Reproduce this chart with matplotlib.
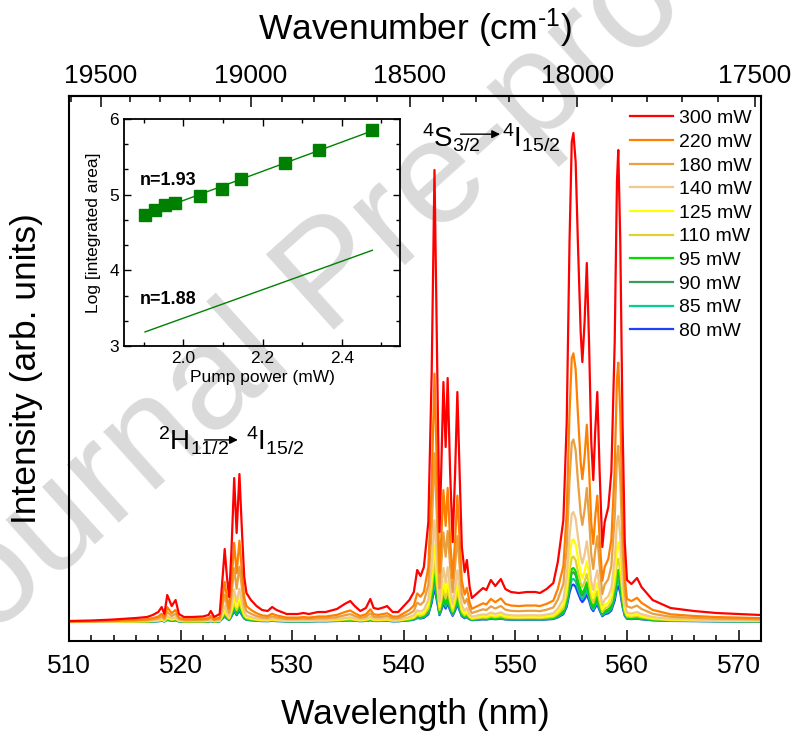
import numpy as np
import matplotlib
matplotlib.use("Agg")
import matplotlib.pyplot as plt
from matplotlib.ticker import MultipleLocator

plt.rcParams['font.family'] = ['Liberation Sans', 'DejaVu Sans']
plt.rcParams['mathtext.fontset'] = 'custom'
plt.rcParams['mathtext.rm'] = 'Liberation Sans'
plt.rcParams['mathtext.it'] = 'Liberation Sans:italic'
plt.rcParams['mathtext.bf'] = 'Liberation Sans:bold'

# Up-conversion emission spectrum at the highest pump power (300 mW)
wavelength_nm = [
    510.0, 512.0, 514.0, 516.0, 517.0, 517.5, 518.0, 518.3, 518.55, 518.8,
    519.2, 519.55, 519.85, 520.3, 521.0, 522.0, 522.5, 522.7, 523.0, 523.5,
    523.8, 523.95, 524.15, 524.35, 524.55, 524.8, 525.02, 525.27, 525.5, 525.7,
    525.9, 526.3, 526.8, 527.3, 527.8, 528.2, 528.6, 529.5, 530.5, 531.0,
    531.5, 532.3, 533.0, 534.0, 534.7, 535.2, 535.6, 536.1, 536.6, 537.0,
    537.3, 537.7, 538.3, 538.5, 539.0, 539.5, 540.0, 540.5, 540.9, 541.2,
    541.5, 541.8, 542.2, 542.5, 542.75, 543.0, 543.2, 543.35, 543.55, 543.75,
    543.93, 544.15, 544.38, 544.6, 544.8, 545.0, 545.2, 545.45, 545.65, 545.9,
    546.1, 546.5, 547.1, 547.4, 547.8, 548.2, 548.7, 549.1, 549.6, 550.3,
    551.0, 551.8, 552.2, 552.8, 553.4, 553.8, 554.3, 554.6, 554.85, 555.05,
    555.2, 555.4, 555.6, 555.85, 556.0, 556.2, 556.4, 556.6, 556.8, 556.98,
    557.15, 557.34, 557.55, 557.79, 558.0, 558.33, 558.6, 558.9, 559.1, 559.22,
    559.4, 559.6, 559.8, 560.0, 560.4, 560.9, 561.3, 562.3, 563.9, 566.0,
    568.0, 570.0, 572.0,
]
intensity_300mW = [
    1, 1.5, 2.5, 4, 5, 7, 10, 15, 8, 27,
    16, 22, 8, 5, 5, 5.5, 7, 11, 5, 8,
    50, 73, 45, 25, 70, 144, 89, 148, 90, 45,
    29, 22, 16, 12, 11, 15, 12, 8, 8, 9,
    8, 10, 10, 13, 18, 21, 16, 11, 14, 23,
    14, 13, 15, 16, 10, 10, 16, 22, 30, 52,
    46, 55, 100, 250, 452, 250, 90, 150, 240, 175,
    244, 150, 80, 150, 230, 150, 75, 50, 62, 35,
    24, 28, 34, 32, 42, 36, 43, 33, 30, 29,
    30, 30, 29, 33, 39, 60, 102, 200, 380, 480,
    489, 460, 380, 290, 260, 300, 359, 280, 180, 142,
    190, 230, 150, 75, 100, 115, 150, 280, 440, 472,
    380, 200, 80, 42, 38, 44, 35, 22, 14, 11,
    9, 8, 7,
]

# Pump powers, line colours and log10 of the integrated emission area
pump_power_mW = [80, 85, 90, 95, 110, 125, 140, 180, 220, 300]
line_colors = ['#2040FF', '#00D090', '#3C9A5A', '#00DD00', '#E0D030',
               '#FFFF00', '#F0C88C', '#E8A040', '#FF8000', '#FF0000']
log_integrated_area = [4.734, 4.796, 4.858, 4.893, 4.977, 5.078, 5.202,
                       5.422, 5.590, 5.850]

# Power-law slopes of the two emission bands
slope_green = 1.93
slope_other = 1.88
intercept_other = -0.392

wl = np.array(wavelength_nm)
spec_ref = np.array(intensity_300mW)
log_p = np.log10(pump_power_mW)
log_a = np.array(log_integrated_area)
rel_scale = 10 ** (log_a - log_a[-1])

fig = plt.figure(figsize=(7.98, 7.33), dpi=100)

# Watermark behind everything
fig.text(0.418, 0.62, 'Journal Pre-proof', rotation=42, fontsize=106,
         color='#dadada', ha='center', va='center', zorder=-5)

ax = fig.add_axes([0.0865, 0.1255, 0.867, 0.7435])
ax.set_facecolor('none')

handles = {}
for p, c, s in zip(pump_power_mW, line_colors, rel_scale):
    ln, = ax.plot(wl, spec_ref * s, color=c, lw=1.6, label=f'{p} mW',
                  solid_joinstyle='round')
    handles[p] = ln

ax.set_xlim(510, 572)
ax.set_ylim(-19, 526)
ax.set_yticks([])
ax.xaxis.set_major_locator(MultipleLocator(10))
ax.xaxis.set_minor_locator(MultipleLocator(2))
ax.tick_params(axis='x', which='major', direction='in', length=8, width=1.1,
               labelsize=19, pad=9)
ax.tick_params(axis='x', which='minor', direction='in', length=4.5, width=1.1)
for sp in ax.spines.values():
    sp.set_linewidth(1.5)
ax.set_xlabel('Wavelength (nm)', fontsize=25.5, labelpad=15)
ax.set_ylabel('Intensity (arb. units)', fontsize=25.5, labelpad=19)


def nm_to_wavenumber(x):
    x = np.asarray(x, dtype=float)
    with np.errstate(divide='ignore', invalid='ignore'):
        return 1e7 / x


sec = ax.secondary_xaxis('top', functions=(nm_to_wavenumber, nm_to_wavenumber))
sec.xaxis.set_major_locator(MultipleLocator(500))
sec.xaxis.set_minor_locator(MultipleLocator(100))
sec.tick_params(axis='x', which='major', direction='in', length=8, width=1.1,
                labelsize=19, pad=6)
sec.tick_params(axis='x', which='minor', direction='in', length=4.5, width=1.1)
sec.spines['top'].set_linewidth(1.5)
sec.set_xlabel('Wavenumber (cm$^{\u2010 1}$)', fontsize=25.5, labelpad=17)

order = [300, 220, 180, 140, 125, 110, 95, 90, 85, 80]
ax.legend([handles[p] for p in order], [f'{p} mW' for p in order],
          loc='upper left', bbox_to_anchor=(0.811, 0.975), frameon=False,
          fontsize=14, handlelength=2.2, handletextpad=0.3,
          labelspacing=0.31, borderpad=0, borderaxespad=0)

# Transition labels
fs_ann = 20
ax.text(0.510, 0.906, r'$^{4}$S$_{3/2}$', transform=ax.transAxes,
        fontsize=fs_ann, ha='left', va='baseline')
ax.annotate('', xy=(0.623, 0.930), xytext=(0.566, 0.930),
            xycoords='axes fraction', textcoords='axes fraction',
            arrowprops=dict(arrowstyle='-|>', color='black', lw=1.0,
                            mutation_scale=12, shrinkA=0, shrinkB=0))
ax.text(0.626, 0.906, r'$^{4}$I$_{15/2}$', transform=ax.transAxes,
        fontsize=fs_ann, ha='left', va='baseline')

ax.text(0.129, 0.350, r'$^{2}$H$_{11/2}$', transform=ax.transAxes,
        fontsize=fs_ann, ha='left', va='baseline')
ax.annotate('', xy=(0.244, 0.369), xytext=(0.196, 0.369),
            xycoords='axes fraction', textcoords='axes fraction',
            arrowprops=dict(arrowstyle='-|>', color='black', lw=1.0,
                            mutation_scale=12, shrinkA=0, shrinkB=0))
ax.text(0.256, 0.350, r'$^{4}$I$_{15/2}$', transform=ax.transAxes,
        fontsize=fs_ann, ha='left', va='baseline')

# Inset: power dependence
ins = fig.add_axes([0.1554, 0.528, 0.346, 0.3097])
ins.set_facecolor('none')
green = '#008000'
fit_x = np.array([log_p[0], log_p[-1]])
intercept_green = np.mean(log_a - slope_green * log_p)
ins.plot(fit_x, slope_green * fit_x + intercept_green, color=green, lw=1.0)
ins.plot(log_p, log_a, ls='none', marker='s', ms=8.5, color=green)
ins.plot(fit_x, slope_other * fit_x + intercept_other, color=green, lw=1.0)
ins.text(1.89, 5.19, f'n={slope_green:.2f}', fontsize=13, fontweight='bold',
         va='center', ha='left')
ins.text(1.89, 3.61, f'n={slope_other:.2f}', fontsize=13, fontweight='bold',
         va='center', ha='left')
ins.set_xlim(1.85, 2.547)
ins.set_ylim(3, 6)
ins.xaxis.set_major_locator(MultipleLocator(0.2))
ins.xaxis.set_minor_locator(MultipleLocator(0.1))
ins.yaxis.set_major_locator(MultipleLocator(1))
ins.yaxis.set_minor_locator(MultipleLocator(1 / 3))
ins.xaxis.set_major_formatter(plt.FormatStrFormatter('%.1f'))
ins.tick_params(which='both', direction='in', top=True, right=True,
                labelsize=12.5, width=1.0)
ins.tick_params(which='major', length=5)
ins.tick_params(which='minor', length=3)
for sp in ins.spines.values():
    sp.set_linewidth(1.3)
ins.set_xlabel('Pump power (mW)', fontsize=12.5, labelpad=3)
ins.set_ylabel('Log [integrated area]', fontsize=12.5, labelpad=6)

fig.savefig('out.png', dpi=100)
